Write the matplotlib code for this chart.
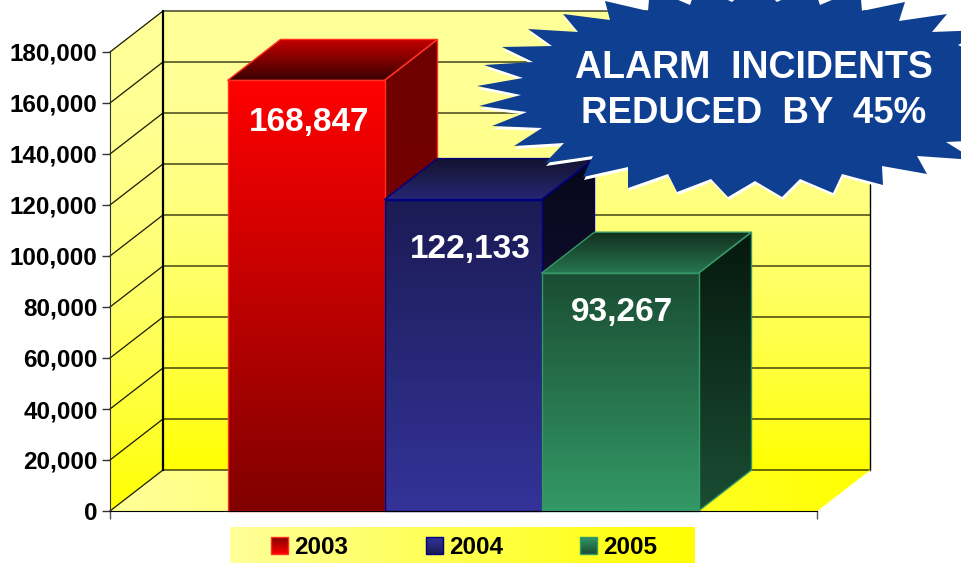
import numpy as np
import matplotlib
matplotlib.use('Agg')
import matplotlib.pyplot as plt
from matplotlib.colors import to_rgb
from matplotlib.patches import Polygon

plt.rcParams['font.family'] = ['Liberation Sans', 'DejaVu Sans']
plt.rcParams['font.weight'] = 'bold'

years = ['2003', '2004', '2005']
incidents = [168847, 122133, 93267]
y_ticks = [0, 20000, 40000, 60000, 80000, 100000, 120000, 140000, 160000, 180000]

# gradient colours per bar, (start, end)
front_cols = [('#ff0000', '#800000'), ('#1b1b55', '#333399'), ('#1a4d33', '#339966')]
top_cols = [('#c40000', '#3a0000'), ('#131330', '#272775'), ('#12301f', '#277550')]
side_cols = [('#6e0000', '#800000'), ('#07071a', '#1a1a4d'), ('#06180e', '#1a4d33')]
edge_cols = ['#ff3020', '#000080', '#339966']

# callout outline in image pixels
burst = [(605, 1), (648, 11), (650, -12), (690, 5), (697, -15), (732, 2), (755, -18), (777, 2),
         (813, -15), (820, 5), (860, -12), (862, 11), (905, 2), (899, 21), (947, 14), (932, 32),
         (985, 30), (958, 45), (990, 60), (990, 140), (946, 142), (975, 160), (917, 156),
         (927, 174), (882, 166), (883, 185), (842, 174), (833, 193), (800, 179), (782, 197),
         (755, 181), (728, 197), (711, 179), (677, 192), (668, 174), (628, 188), (628, 167),
         (583, 177), (593, 156), (545, 163), (564, 143), (514, 146), (542, 128), (492, 126),
         (527, 112), (479, 106), (521, 95), (477, 86), (523, 78), (484, 65), (533, 62),
         (502, 47), (552, 46), (528, 29), (578, 32), (563, 14), (610, 20)]

W, H = 961, 563
fig = plt.figure(figsize=(W / 100, H / 100), dpi=100)
ax = fig.add_axes([110 / W, (H - 511) / H, 707 / W, 459 / H])
ax.patch.set_visible(False)

px_x = 157.0  # pixels per category
px_y = 459.0 / 180000
x0, x1 = -(306 - 110) / px_x, (817 - 306) / px_x
ax.set_xlim(x0, x1)
ax.set_ylim(0, 180000)
dx = 53 / px_x
dy = 41 / px_y
ymax = 180000


def ramp(c0, c1, horizontal=False, gamma=1.0):
    a, b = np.array(to_rgb(c0)), np.array(to_rgb(c1))
    t = (np.linspace(0, 1, 128)[:, None]) ** gamma
    g = a * (1 - t) + b * t
    return g[None, :, :] if horizontal else g[:, None, :]


def face(axes, pts, c0, c1, z, edge=None, lw=1.0, horizontal=False, gamma=1.0):
    pts = np.array(pts, dtype=float)
    poly = Polygon(pts, closed=True, fc='none', ec=edge or 'none', lw=lw, zorder=z + 0.5, clip_on=False)
    axes.add_patch(poly)
    extent = (pts[:, 0].min(), pts[:, 0].max(), pts[:, 1].min(), pts[:, 1].max())
    im = axes.imshow(ramp(c0, c1, horizontal, gamma), extent=extent, origin='upper', aspect='auto',
                     interpolation='bilinear', zorder=z)
    im.set_clip_box(fig.bbox)
    im.set_clip_path(poly)
    return poly


pale, yellow = '#ffff99', '#ffff00'
# back wall, left wall, floor
face(ax, [(x0 + dx, dy), (x1 + dx, dy), (x1 + dx, ymax + dy), (x0 + dx, ymax + dy)], pale, yellow, 1, gamma=2.0)
face(ax, [(x0, 0), (x0 + dx, dy), (x0 + dx, ymax + dy), (x0, ymax)], pale, yellow, 1, gamma=2.0)
face(ax, [(x0, 0), (x1, 0), (x1 + dx, dy), (x0 + dx, dy)], pale, yellow, 1, horizontal=True)

# gridlines on the walls
for v in y_ticks:
    ax.plot([x0, x0 + dx, x1 + dx], [v, v + dy, v + dy], color='#1a1a00', lw=0.9, zorder=2, clip_on=False)
ax.plot([x0 + dx, x0 + dx], [dy, ymax + dy], color='black', lw=1.6, zorder=2, clip_on=False)
ax.plot([x1 + dx, x1 + dx], [dy, ymax + dy], color='black', lw=1.0, zorder=2, clip_on=False)
ax.plot([x1, x1 + dx], [0, dy], color='#ffff40', lw=0.6, zorder=2, clip_on=False)

# bars
pos = np.arange(len(incidents))
bars = ax.bar(pos, incidents, width=1.0, fc='none', lw=0, zorder=3)
for i, (b, v) in enumerate(zip(bars, incidents)):
    l, r = b.get_x(), b.get_x() + b.get_width()
    z = 3 + i * 2
    face(ax, [(r, 0), (r + dx, dy), (r + dx, v + dy), (r, v)], *side_cols[i], z, edge=edge_cols[i])
    face(ax, [(l, v), (r, v), (r + dx, v + dy), (l + dx, v + dy)], *top_cols[i], z, edge=edge_cols[i])
    face(ax, [(l, 0), (r, 0), (r, v), (l, v)], *front_cols[i], z + 0.7, edge=edge_cols[i])

label_off = [(3, -42), (7, -50), (2, -39)]
for i, v in enumerate(incidents):
    ax.annotate(f'{v:,}', xy=(pos[i], v), xytext=(label_off[i][0] * 0.72, label_off[i][1] * 0.72),
                textcoords='offset points', ha='center', va='center', color='white', fontsize=24,
                fontweight='bold', zorder=20)

ax.spines['top'].set_visible(False)
ax.spines['right'].set_visible(False)
ax.spines['left'].set_color('#333333')
ax.spines['left'].set_zorder(15)
ax.spines['bottom'].set_zorder(15)
ax.set_yticks(y_ticks)
ax.set_yticklabels([f'{v:,}' for v in y_ticks], fontsize=17.5, fontweight='bold')
ax.set_xticks([x0, x1])
ax.set_xticklabels(['', ''])
ax.tick_params(axis='y', length=6, width=1, color='#333333', pad=3)
ax.tick_params(axis='x', length=5.5, width=1, color='#555555')

# overlay in image pixels for legend and callout
top = fig.add_axes([0, 0, 1, 1])
top.set_xlim(0, W)
top.set_ylim(H, 0)
top.axis('off')
top.patch.set_visible(False)

face(top, [(230, 527), (695, 527), (695, 563), (230, 563)], pale, yellow, 1, horizontal=True)
leg_x = [271, 426, 580]
for i, name in enumerate(years):
    x = leg_x[i]
    face(top, [(x, 537), (x + 17, 537), (x + 17, 554), (x, 554)], *front_cols[i], 2, edge=edge_cols[i])
    top.text(x + 23, 547.5, name, fontsize=17.5, fontweight='bold', va='center', ha='left', color='black', zorder=5)

pts = np.array(burst, dtype=float)
top.add_patch(Polygon(pts + [1, 3], closed=True, fc='white', ec='none', zorder=6))
top.add_patch(Polygon(pts, closed=True, fc='#0f3f91', ec='none', zorder=7))
top.text(753.5, 68, 'ALARM  INCIDENTS', color='white', fontsize=27, fontweight='bold',
         ha='center', va='center', zorder=8)
top.text(753.5, 113.5, 'REDUCED  BY  45%', color='white', fontsize=26.4, fontweight='bold',
         ha='center', va='center', zorder=8)

fig.savefig('out.png', dpi=100)
